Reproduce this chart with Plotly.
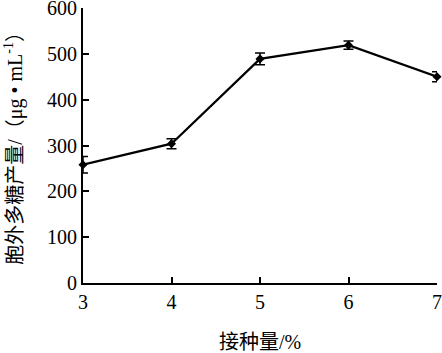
import plotly.graph_objects as go

inoculum = [3, 4, 5, 6, 7]
eps_yield = [258, 304, 489, 519, 450]
eps_err = [18, 11, 13, 9, 11]
x_ticks = [3, 4, 5, 6, 7]
y_ticks = [0, 100, 200, 300, 400, 500, 600]

FONT = "Liberation Serif, 'Noto Sans CJK SC', serif"

fig = go.Figure()
fig.add_trace(go.Scatter(
    x=inoculum, y=eps_yield,
    mode="lines+markers",
    line=dict(color="black", width=2.2),
    marker=dict(symbol="diamond", size=7, color="black"),
    error_y=dict(type="data", array=eps_err, visible=True, color="black", thickness=1.5, width=5),
    cliponaxis=False,
    showlegend=False,
))

fig.update_layout(
    width=442, height=353,
    margin=dict(l=83, r=5, t=8, b=70, autoexpand=False),
    paper_bgcolor="white", plot_bgcolor="white",
    font=dict(family=FONT, size=20, color="black"),
    annotations=[
        dict(text="接种量/%", xref="paper", yref="paper", x=0.5, y=-0.215,
             xanchor="center", yanchor="middle", showarrow=False, font=dict(size=20)),
        dict(text="胞外多糖产量/（μg • mL<sup>-1</sup>）", xref="paper", yref="paper",
             x=-0.195, y=0.51, xanchor="center", yanchor="middle", textangle=-90,
             showarrow=False, font=dict(size=20)),
    ],
)
fig.update_xaxes(
    range=[3, 7], tickvals=x_ticks, ticks="inside", ticklen=6, tickwidth=1.5,
    tickcolor="black", showline=True, linecolor="black", linewidth=1.8,
    showgrid=False, zeroline=False, tickfont=dict(size=20), ticklabeloverflow="allow",
    automargin=False,
)
fig.update_yaxes(
    range=[0, 600], tickvals=y_ticks, ticks="inside", ticklen=6, tickwidth=1.5,
    tickcolor="black", showline=True, linecolor="black", linewidth=1.8,
    showgrid=False, zeroline=False, tickfont=dict(size=20), ticklabeloverflow="allow",
    automargin=False,
)
fig.write_html("out.html")
